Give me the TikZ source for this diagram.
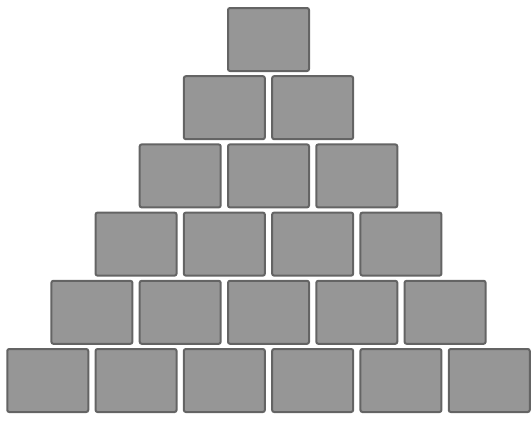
\documentclass[tikz,border=0pt]{standalone}
\usepackage{xcolor}
\usepackage{tikz}
\usetikzlibrary{positioning}
\definecolor{grisBloc}{RGB}{150,150,150}
\definecolor{grisBord}{RGB}{100,100,100}

\tikzset{bloc/.style={rectangle, fill=grisBloc, draw=grisBord, line width=2pt,
    rounded corners=2pt, inner sep=0pt, minimum width=81pt, minimum height=63pt}}

\begin{document}
\begin{tikzpicture}[x=1pt, y=-1pt]

\useasboundingbox (0,0) rectangle (531,421);

\node[bloc] (b11) at (268.5,39.5) {};

\node[bloc] (b21) at (224.35,107.7) {};
\node[bloc] (b22) at (312.65,107.7) {};

\node[bloc] (b31) at (180.2,175.9) {};
\node[bloc] (b32) at (268.5,175.9) {};
\node[bloc] (b33) at (356.8,175.9) {};

\node[bloc] (b41) at (136.05,244.1) {};
\node[bloc] (b42) at (224.35,244.1) {};
\node[bloc] (b43) at (312.65,244.1) {};
\node[bloc] (b44) at (400.95,244.1) {};

\node[bloc] (b51) at (91.9,312.3) {};
\node[bloc] (b52) at (180.2,312.3) {};
\node[bloc] (b53) at (268.5,312.3) {};
\node[bloc] (b54) at (356.8,312.3) {};
\node[bloc] (b55) at (445.1,312.3) {};

\node[bloc] (b61) at (47.75,380.5) {};
\node[bloc] (b62) at (136.05,380.5) {};
\node[bloc] (b63) at (224.35,380.5) {};
\node[bloc] (b64) at (312.65,380.5) {};
\node[bloc] (b65) at (400.95,380.5) {};
\node[bloc] (b66) at (489.25,380.5) {};

\end{tikzpicture}
\end{document}
